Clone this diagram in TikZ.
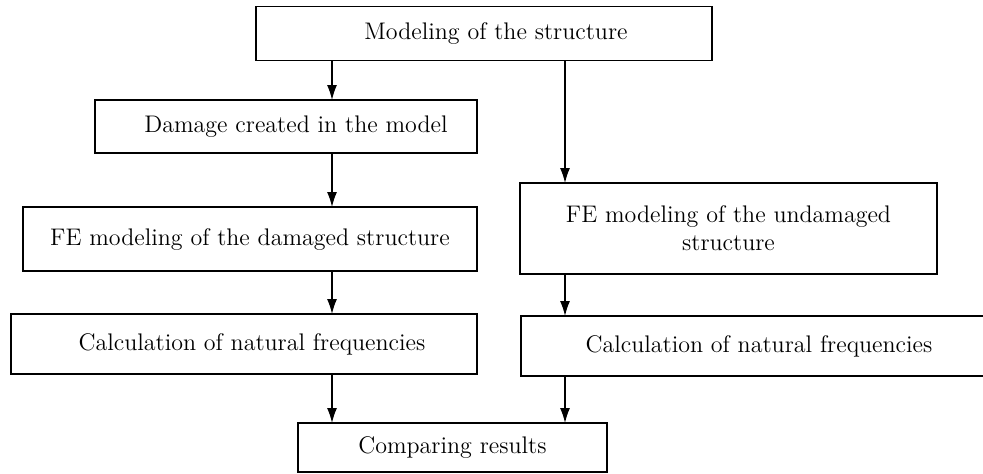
\documentclass[tikz,border=0pt]{standalone}
\usetikzlibrary{arrows.meta}
\begin{document}
\begin{tikzpicture}[x=0.5pt,y=-0.5pt,
  box/.style={draw, line width=0.65pt, inner sep=0pt, outer sep=0pt, align=center,
    font=\fontsize{12}{14}\selectfont},
  arr/.style={line width=0.65pt, -{Latex[length=7.5pt,width=5pt]}}]
\useasboundingbox (0,0) rectangle (983,473);
\begin{scope}
\clip (0,0) rectangle (983,473);
\node[box, minimum width=228pt, minimum height=27pt] (top) at (484,33.5) {\hspace*{12pt}Modeling of the structure};
\node[box, minimum width=191pt, minimum height=26.5pt] (dmg) at (286,126.5) {\hspace*{10pt}Damage created in the model};
\node[box, minimum width=227pt, minimum height=32pt] (fed) at (250,239) {FE modeling of the damaged structure};
\node[box, minimum width=233pt, minimum height=30pt] (calcL) at (244,344) {\hspace*{8pt}Calculation of natural frequencies};
\node[box, minimum width=208.5pt, minimum height=45.5pt] (feu) at (728.5,228.5) {FE modeling of the undamaged\\structure};
\node[box, minimum width=238pt, minimum height=30pt] (calcR) at (759,346) {Calculation of natural frequencies};
\node[box, minimum width=154.5pt, minimum height=24.5pt] (comp) at (452.5,447.5) {Comparing results};
\coordinate (cL) at (332,0);
\coordinate (cR) at (565,0);
\draw[arr] (top.south -| cL) -- (dmg.north -| cL);
\draw[arr] (top.south -| cR) -- (feu.north -| cR);
\draw[arr] (dmg.south -| cL) -- (fed.north -| cL);
\draw[arr] (fed.south -| cL) -- (calcL.north -| cL);
\draw[arr] (calcL.south -| cL) -- (comp.north -| cL);
\draw[arr] (feu.south -| cR) -- (calcR.north -| cR);
\draw[arr] (calcR.south -| cR) -- (comp.north -| cR);
\end{scope}
\end{tikzpicture}
\end{document}
